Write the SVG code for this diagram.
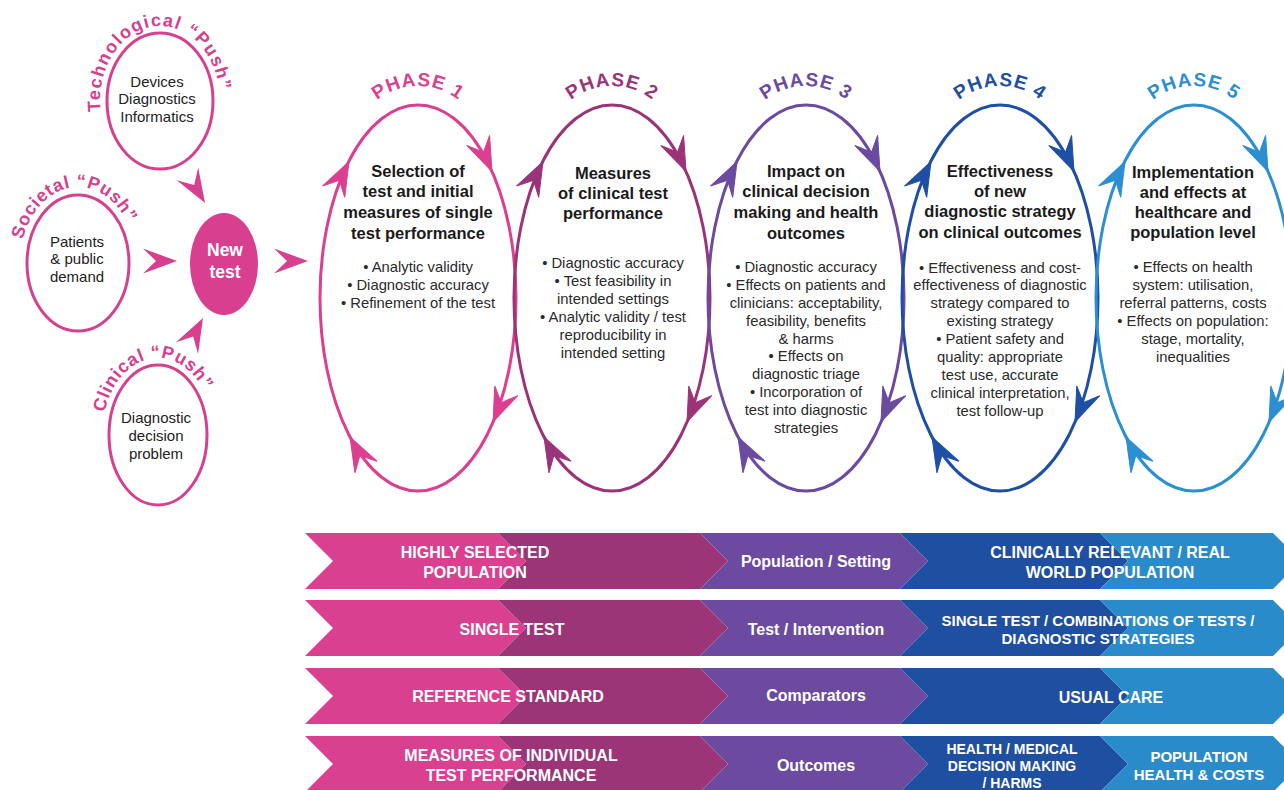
<svg xmlns="http://www.w3.org/2000/svg" xmlns:xlink="http://www.w3.org/1999/xlink" width="1284" height="790" viewBox="0 0 1284 790">
  <style>
    text { font-family: "Liberation Sans", Arial, sans-serif; }
    .body { font-size: 15px; fill: #222; text-anchor: middle; }
    .title { font-size: 16.5px; font-weight: bold; fill: #1a1a1a; text-anchor: middle; }
    .item { font-size: 14.8px; fill: #2a2a2a; text-anchor: middle; }
    .push { font-size: 18px; font-weight: bold; fill: #d6408e; letter-spacing: 0.7px; }
    .phase { font-size: 19px; font-weight: bold; letter-spacing: 1px; text-anchor: middle; }
    .bar { font-size: 16px; font-weight: bold; fill: #fff; text-anchor: middle; }
    .ring { fill: none; stroke-width: 3; }
    .pink { stroke: #d6408e; fill: none; stroke-width: 3; }
    .c1 { stroke: #dc3f90; fill: #dc3f90; }
    .c2 { stroke: #9a3479; fill: #9a3479; }
    .c3 { stroke: #6b4aa0; fill: #6b4aa0; }
    .c4 { stroke: #1e4fa5; fill: #1e4fa5; }
    .c5 { stroke: #2b8fd2; fill: #2b8fd2; }
  </style>
  <defs>
    <!-- barbed arrowhead, tip at origin, pointing along +x -->
    <path id="ah" d="M0,0 L-34,-12.5 L-21,0 L-34,12.5 Z"/>
    <!-- one band of five chevrons -->
    <g id="band">
      <polygon points="305,0 498,0 526,28 498,56 305,56 333,28" fill="#d9408f"/>
      <polygon points="498,0 700,0 728,28 700,56 498,56 526,28" fill="#9b3577"/>
      <polygon points="700,0 900,0 928,28 900,56 700,56 728,28" fill="#6c4a9f"/>
      <polygon points="900,0 1100,0 1128,28 1100,56 900,56 928,28" fill="#1e4fa1"/>
      <polygon points="1100,0 1273,0 1301,28 1273,56 1100,56 1128,28" fill="#2a8bcb"/>
    </g>
    <!-- baselines for the curved labels -->
    <path id="arcTech" d="M100.6,111.4 A60,75 0 1 1 218.7,116.6"/>
    <path id="arcSoc" d="M22.8,239.5 A58,76 0 0 1 132.5,237"/>
    <path id="arcClin" d="M104.4,412.5 A56,77 0 0 1 210.6,408.7"/>
    <path id="arcP1" d="M358,124.5 A66,66 0 0 1 478,124.5"/>
    <path id="arcP2" d="M552,124.5 A66,66 0 0 1 672,124.5"/>
    <path id="arcP3" d="M746,124.5 A66,66 0 0 1 866,124.5"/>
    <path id="arcP4" d="M940,124.5 A66,66 0 0 1 1060,124.5"/>
    <path id="arcP5" d="M1134,124.5 A66,66 0 0 1 1254,124.5"/>
  </defs>

  <rect width="1284" height="790" fill="#fff"/>

  <!-- drivers of a new test -->
  <g id="technological-push">
    <ellipse class="pink" cx="160" cy="101" rx="53" ry="68"/>
    <text class="push" style="letter-spacing:1.3px"><textPath href="#arcTech">Technological “Push”</textPath></text>
    <text class="body" x="157" y="87">Devices</text>
    <text class="body" x="157" y="104">Diagnostics</text>
    <text class="body" x="157" y="122">Informatics</text>
  </g>
  <g id="societal-push">
    <ellipse class="pink" cx="78" cy="263" rx="51" ry="68"/>
    <text class="push"><textPath href="#arcSoc">Societal “Push”</textPath></text>
    <text class="body" x="77" y="247">Patients</text>
    <text class="body" x="77" y="264">&amp; public</text>
    <text class="body" x="77" y="282">demand</text>
  </g>
  <g id="clinical-push">
    <ellipse class="pink" cx="158" cy="435" rx="49" ry="70"/>
    <text class="push"><textPath href="#arcClin">Clinical “Push”</textPath></text>
    <text class="body" x="156" y="423">Diagnostic</text>
    <text class="body" x="156" y="441">decision</text>
    <text class="body" x="156" y="459">problem</text>
  </g>
  <g id="new-test">
    <ellipse cx="224" cy="264" rx="34" ry="51" fill="#d8408f"/>
    <text x="225" y="256" style="font-size:17.5px;font-weight:bold;fill:#fff;text-anchor:middle">New</text>
    <text x="225" y="278" style="font-size:17.5px;font-weight:bold;fill:#fff;text-anchor:middle">test</text>
  </g>

  <!-- connectors into and out of the new test -->
  <g id="connectors" fill="#d6408e">
    <use href="#ah" transform="translate(205,203) rotate(59)"/>
    <use href="#ah" transform="translate(177,261)"/>
    <use href="#ah" transform="translate(203,318) rotate(-62)"/>
    <use href="#ah" transform="translate(308,261)"/>
  </g>

  <!-- phase cycles -->
  <g id="phase-1" class="c1">
    <ellipse class="ring" cx="418" cy="298" rx="98" ry="193"/>
    <use href="#ah" transform="translate(492,171.5) rotate(66)"/>
    <use href="#ah" transform="translate(493,422) rotate(113)"/>
    <use href="#ah" transform="translate(350,437) rotate(-118)"/>
    <use href="#ah" transform="translate(349,161.5) rotate(-63)"/>
    <text class="phase" stroke="none"><textPath href="#arcP1" startOffset="50%">PHASE 1</textPath></text>
    <g stroke="none">
      <text class="title" x="418" y="177">Selection of</text>
      <text class="title" x="418" y="197">test and initial</text>
      <text class="title" x="418" y="218">measures of single</text>
      <text class="title" x="418" y="239">test performance</text>
      <text class="item" x="418" y="272">• Analytic validity</text>
      <text class="item" x="418" y="290">• Diagnostic accuracy</text>
      <text class="item" x="418" y="308">•  Refinement of the test</text>
    </g>
  </g>

  <g id="phase-2" class="c2">
    <ellipse class="ring" cx="612" cy="298" rx="98" ry="193"/>
    <use href="#ah" transform="translate(686,171.5) rotate(66)"/>
    <use href="#ah" transform="translate(687,422) rotate(113)"/>
    <use href="#ah" transform="translate(544,437) rotate(-118)"/>
    <use href="#ah" transform="translate(543,161.5) rotate(-63)"/>
    <text class="phase" stroke="none"><textPath href="#arcP2" startOffset="50%">PHASE 2</textPath></text>
    <g stroke="none">
      <text class="title" x="613" y="179">Measures</text>
      <text class="title" x="613" y="199">of clinical test</text>
      <text class="title" x="613" y="219">performance</text>
      <text class="item" x="613" y="268">•  Diagnostic accuracy</text>
      <text class="item" x="613" y="286">•  Test feasibility in</text>
      <text class="item" x="613" y="304">intended settings</text>
      <text class="item" x="613" y="322">•  Analytic validity / test</text>
      <text class="item" x="613" y="340">reproducibility in</text>
      <text class="item" x="613" y="358">intended setting</text>
    </g>
  </g>

  <g id="phase-3" class="c3">
    <ellipse class="ring" cx="806" cy="298" rx="98" ry="193"/>
    <use href="#ah" transform="translate(880,171.5) rotate(66)"/>
    <use href="#ah" transform="translate(881,422) rotate(113)"/>
    <use href="#ah" transform="translate(738,437) rotate(-118)"/>
    <use href="#ah" transform="translate(737,161.5) rotate(-63)"/>
    <text class="phase" stroke="none"><textPath href="#arcP3" startOffset="50%">PHASE 3</textPath></text>
    <g stroke="none">
      <text class="title" x="806" y="177">Impact on</text>
      <text class="title" x="806" y="197">clinical decision</text>
      <text class="title" x="806" y="218">making and health</text>
      <text class="title" x="806" y="239">outcomes</text>
      <text class="item" x="806" y="272">•  Diagnostic accuracy</text>
      <text class="item" x="806" y="290">•  Effects on patients and</text>
      <text class="item" x="806" y="308">clinicians: acceptability,</text>
      <text class="item" x="806" y="326">feasibility, benefits</text>
      <text class="item" x="806" y="344">&amp; harms</text>
      <text class="item" x="806" y="361">•  Effects on</text>
      <text class="item" x="806" y="379">diagnostic triage</text>
      <text class="item" x="806" y="397">•  Incorporation of</text>
      <text class="item" x="806" y="415">test into diagnostic</text>
      <text class="item" x="806" y="433">strategies</text>
    </g>
  </g>

  <g id="phase-4" class="c4">
    <ellipse class="ring" cx="1000" cy="298" rx="98" ry="193"/>
    <use href="#ah" transform="translate(1074,171.5) rotate(66)"/>
    <use href="#ah" transform="translate(1075,422) rotate(113)"/>
    <use href="#ah" transform="translate(932,437) rotate(-118)"/>
    <use href="#ah" transform="translate(931,161.5) rotate(-63)"/>
    <text class="phase" stroke="none"><textPath href="#arcP4" startOffset="50%">PHASE 4</textPath></text>
    <g stroke="none">
      <text class="title" x="1000" y="177">Effectiveness</text>
      <text class="title" x="1000" y="197">of new</text>
      <text class="title" x="1000" y="217">diagnostic strategy</text>
      <text class="title" x="1000" y="238">on clinical outcomes</text>
      <text class="item" x="1000" y="273">•  Effectiveness and cost-</text>
      <text class="item" x="1000" y="290">effectiveness of diagnostic</text>
      <text class="item" x="1000" y="308">strategy compared to</text>
      <text class="item" x="1000" y="326">existing strategy</text>
      <text class="item" x="1000" y="344">•  Patient safety and</text>
      <text class="item" x="1000" y="362">quality: appropriate</text>
      <text class="item" x="1000" y="380">test use, accurate</text>
      <text class="item" x="1000" y="398">clinical interpretation,</text>
      <text class="item" x="1000" y="416">test follow-up</text>
    </g>
  </g>

  <g id="phase-5" class="c5">
    <ellipse class="ring" cx="1194" cy="298" rx="98" ry="193"/>
    <use href="#ah" transform="translate(1268,171.5) rotate(66)"/>
    <use href="#ah" transform="translate(1269,422) rotate(113)"/>
    <use href="#ah" transform="translate(1126,437) rotate(-118)"/>
    <use href="#ah" transform="translate(1125,161.5) rotate(-63)"/>
    <text class="phase" stroke="none"><textPath href="#arcP5" startOffset="50%">PHASE 5</textPath></text>
    <g stroke="none">
      <text class="title" x="1193" y="178">Implementation</text>
      <text class="title" x="1193" y="198">and effects at</text>
      <text class="title" x="1193" y="218">healthcare and</text>
      <text class="title" x="1193" y="238">population level</text>
      <text class="item" x="1193" y="272">•  Effects on health</text>
      <text class="item" x="1193" y="290">system: utilisation,</text>
      <text class="item" x="1193" y="308">referral patterns, costs</text>
      <text class="item" x="1193" y="326">•  Effects on population:</text>
      <text class="item" x="1193" y="344">stage, mortality,</text>
      <text class="item" x="1193" y="362">inequalities</text>
    </g>
  </g>

  <!-- study-design bands -->
  <g id="bands">
    <use href="#band" y="533"/>
    <use href="#band" y="600"/>
    <use href="#band" y="668"/>
    <use href="#band" y="736"/>

    <text class="bar" x="475" y="558">HIGHLY SELECTED</text>
    <text class="bar" x="475" y="578">POPULATION</text>
    <text class="bar" x="816" y="567">Population / Setting</text>
    <text class="bar" x="1110" y="558">CLINICALLY RELEVANT / REAL</text>
    <text class="bar" x="1110" y="578">WORLD POPULATION</text>

    <text class="bar" x="512" y="635">SINGLE TEST</text>
    <text class="bar" x="816" y="635">Test / Intervention</text>
    <text class="bar" x="1098" y="626" style="font-size:15px">SINGLE TEST / COMBINATIONS OF TESTS /</text>
    <text class="bar" x="1098" y="644" style="font-size:15px">DIAGNOSTIC STRATEGIES</text>

    <text class="bar" x="508" y="702">REFERENCE STANDARD</text>
    <text class="bar" x="816" y="701">Comparators</text>
    <text class="bar" x="1111" y="703">USUAL CARE</text>

    <text class="bar" x="511" y="761">MEASURES OF INDIVIDUAL</text>
    <text class="bar" x="511" y="781">TEST PERFORMANCE</text>
    <text class="bar" x="816" y="771">Outcomes</text>
    <text class="bar" x="1012" y="754" style="font-size:14px">HEALTH / MEDICAL</text>
    <text class="bar" x="1012" y="771" style="font-size:14px">DECISION MAKING</text>
    <text class="bar" x="1012" y="788" style="font-size:14px">/ HARMS</text>
    <text class="bar" x="1199" y="762" style="font-size:15px">POPULATION</text>
    <text class="bar" x="1199" y="780" style="font-size:15px">HEALTH &amp; COSTS</text>
  </g>
</svg>
